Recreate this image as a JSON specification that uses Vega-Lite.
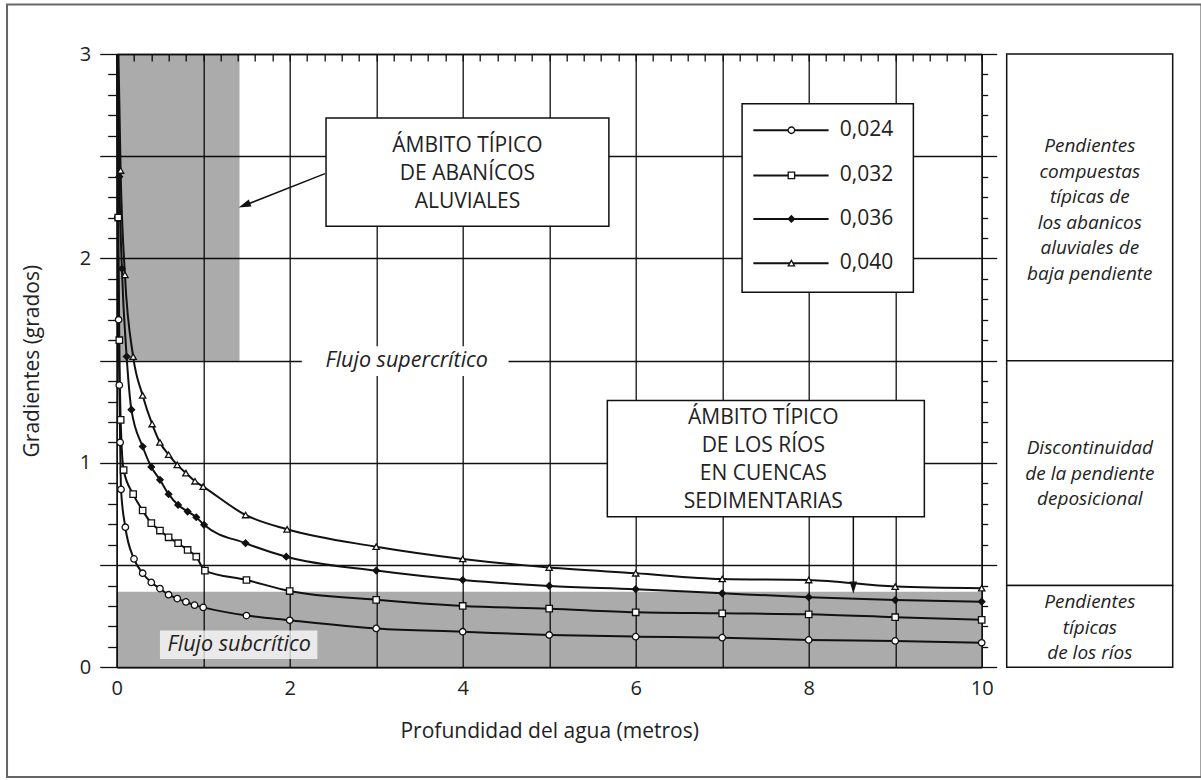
{
  "$schema": "https://vega.github.io/schema/vega-lite/v6.json",
  "width": 865,
  "height": 613.3,
  "autosize": {"type": "none"},
  "padding": {"left": 116.7, "top": 54, "right": 219.3, "bottom": 112.7},
  "background": "white",
  "config": {
    "view": {"stroke": null},
    "font": "Open Sans",
    "axis": {
      "domainColor": "#111", "domainWidth": 1.5,
      "gridColor": "#111", "gridWidth": 1.3, "gridOpacity": 1,
      "tickColor": "#111", "tickWidth": 1.3,
      "labelFont": "Open Sans", "labelColor": "#222", "labelFontSize": 20,
      "titleFont": "Open Sans", "titleColor": "#222", "titleFontSize": 21, "titleFontWeight": "normal",
      "labelFlush": false, "labelOverlap": false
    }
  },
  "datasets": {
    "series": [
      {"n": "0,024", "x": 0.005, "y": 3.0}, {"n": "0,024", "x": 0.012, "y": 2.2}, {"n": "0,024", "x": 0.022, "y": 1.7},
      {"n": "0,024", "x": 0.03, "y": 1.38}, {"n": "0,024", "x": 0.04, "y": 1.1}, {"n": "0,024", "x": 0.05, "y": 0.87},
      {"n": "0,024", "x": 0.1, "y": 0.685}, {"n": "0,024", "x": 0.2, "y": 0.53}, {"n": "0,024", "x": 0.3, "y": 0.46},
      {"n": "0,024", "x": 0.4, "y": 0.415}, {"n": "0,024", "x": 0.5, "y": 0.385}, {"n": "0,024", "x": 0.6, "y": 0.355},
      {"n": "0,024", "x": 0.7, "y": 0.336}, {"n": "0,024", "x": 0.8, "y": 0.32}, {"n": "0,024", "x": 0.9, "y": 0.304},
      {"n": "0,024", "x": 1.0, "y": 0.293}, {"n": "0,024", "x": 1.5, "y": 0.253}, {"n": "0,024", "x": 2, "y": 0.23},
      {"n": "0,024", "x": 3, "y": 0.19}, {"n": "0,024", "x": 4, "y": 0.174}, {"n": "0,024", "x": 5, "y": 0.158},
      {"n": "0,024", "x": 6, "y": 0.15}, {"n": "0,024", "x": 7, "y": 0.145}, {"n": "0,024", "x": 8, "y": 0.134},
      {"n": "0,024", "x": 9, "y": 0.129}, {"n": "0,024", "x": 10, "y": 0.12},

      {"n": "0,032", "x": 0.008, "y": 3.0}, {"n": "0,032", "x": 0.018, "y": 2.2}, {"n": "0,032", "x": 0.03, "y": 1.6},
      {"n": "0,032", "x": 0.046, "y": 1.21}, {"n": "0,032", "x": 0.08, "y": 0.965}, {"n": "0,032", "x": 0.19, "y": 0.847},
      {"n": "0,032", "x": 0.3, "y": 0.767}, {"n": "0,032", "x": 0.4, "y": 0.705}, {"n": "0,032", "x": 0.5, "y": 0.669},
      {"n": "0,032", "x": 0.6, "y": 0.636}, {"n": "0,032", "x": 0.71, "y": 0.607}, {"n": "0,032", "x": 0.82, "y": 0.574},
      {"n": "0,032", "x": 0.92, "y": 0.541}, {"n": "0,032", "x": 1.02, "y": 0.473}, {"n": "0,032", "x": 1.5, "y": 0.427},
      {"n": "0,032", "x": 2, "y": 0.373}, {"n": "0,032", "x": 3, "y": 0.33}, {"n": "0,032", "x": 4, "y": 0.3},
      {"n": "0,032", "x": 5, "y": 0.287}, {"n": "0,032", "x": 6, "y": 0.269}, {"n": "0,032", "x": 7, "y": 0.264},
      {"n": "0,032", "x": 8, "y": 0.259}, {"n": "0,032", "x": 9, "y": 0.245}, {"n": "0,032", "x": 10, "y": 0.232},

      {"n": "0,036", "x": 0.012, "y": 3.0}, {"n": "0,036", "x": 0.03, "y": 2.4}, {"n": "0,036", "x": 0.06, "y": 1.95},
      {"n": "0,036", "x": 0.115, "y": 1.52}, {"n": "0,036", "x": 0.17, "y": 1.26}, {"n": "0,036", "x": 0.3, "y": 1.08},
      {"n": "0,036", "x": 0.4, "y": 0.98}, {"n": "0,036", "x": 0.5, "y": 0.917}, {"n": "0,036", "x": 0.6, "y": 0.847},
      {"n": "0,036", "x": 0.71, "y": 0.794}, {"n": "0,036", "x": 0.82, "y": 0.762}, {"n": "0,036", "x": 0.92, "y": 0.734},
      {"n": "0,036", "x": 1.01, "y": 0.697}, {"n": "0,036", "x": 1.49, "y": 0.607}, {"n": "0,036", "x": 1.96, "y": 0.541},
      {"n": "0,036", "x": 3, "y": 0.473}, {"n": "0,036", "x": 4, "y": 0.427}, {"n": "0,036", "x": 5, "y": 0.398},
      {"n": "0,036", "x": 6, "y": 0.382}, {"n": "0,036", "x": 7, "y": 0.362}, {"n": "0,036", "x": 8, "y": 0.343},
      {"n": "0,036", "x": 9, "y": 0.329}, {"n": "0,036", "x": 10, "y": 0.321},

      {"n": "0,040", "x": 0.02, "y": 3.0}, {"n": "0,040", "x": 0.045, "y": 2.43}, {"n": "0,040", "x": 0.095, "y": 1.92},
      {"n": "0,040", "x": 0.19, "y": 1.52}, {"n": "0,040", "x": 0.3, "y": 1.33}, {"n": "0,040", "x": 0.41, "y": 1.19},
      {"n": "0,040", "x": 0.5, "y": 1.1}, {"n": "0,040", "x": 0.6, "y": 1.04}, {"n": "0,040", "x": 0.7, "y": 0.99},
      {"n": "0,040", "x": 0.8, "y": 0.95}, {"n": "0,040", "x": 0.905, "y": 0.91}, {"n": "0,040", "x": 1.0, "y": 0.884},
      {"n": "0,040", "x": 1.49, "y": 0.745}, {"n": "0,040", "x": 1.97, "y": 0.675}, {"n": "0,040", "x": 3, "y": 0.59},
      {"n": "0,040", "x": 4, "y": 0.53}, {"n": "0,040", "x": 5, "y": 0.488}, {"n": "0,040", "x": 6, "y": 0.46},
      {"n": "0,040", "x": 7, "y": 0.432}, {"n": "0,040", "x": 8, "y": 0.427}, {"n": "0,040", "x": 9, "y": 0.395},
      {"n": "0,040", "x": 10, "y": 0.387}
    ],
    "shade": [
      {"x0": 0, "x1": 1.42, "y0": 1.5, "y1": 3},
      {"x0": 0, "x1": 10, "y0": 0, "y1": 0.37}
    ],
    "boxes": [
      {"x0": 2.42, "x1": 5.69, "y0": 2.157, "y1": 2.687},
      {"x0": 5.672, "x1": 9.337, "y0": 0.737, "y1": 1.305},
      {"x0": 7.23, "x1": 9.21, "y0": 1.835, "y1": 2.757}
    ],
    "boxtext": [
      {"x": 4.055, "y": 2.548, "t": "ÁMBITO TÍPICO\nDE ABANÍCOS\nALUVIALES"},
      {"x": 7.475, "y": 1.219, "t": "ÁMBITO TÍPICO\nDE LOS RÍOS\nEN CUENCAS\nSEDIMENTARIAS"}
    ],
    "legend": [
      {"n": "0,024", "y": 2.627},
      {"n": "0,032", "y": 2.406},
      {"n": "0,036", "y": 2.193},
      {"n": "0,040", "y": 1.977}
    ],
    "panel": [
      {"x0": 10.289, "x1": 12.208, "y0": 1.5, "y1": 3, "t": "Pendientes\ncompuestas\ntípicas de\nlos abanicos\naluviales de\nbaja pendiente", "ty": 2.548},
      {"x0": 10.289, "x1": 12.208, "y0": 0.4, "y1": 1.5, "t": "Discontinuidad\nde la pendiente\ndeposicional", "ty": 1.071},
      {"x0": 10.289, "x1": 12.208, "y0": 0, "y1": 0.4, "t": "Pendientes\ntípicas\nde los ríos", "ty": 0.319}
    ]
  },
  "resolve": {"axis": {"x": "independent", "y": "independent"}},
  "layer": [
    {
      "data": {"name": "shade"},
      "mark": {"type": "rect", "fill": "#000", "fillOpacity": 0.33},
      "encoding": {
        "x": {"field": "x0", "type": "quantitative",
          "scale": {"domain": [0, 10], "nice": false, "zero": false},
          "axis": {"orient": "bottom", "values": [0, 1, 2, 3, 4, 5, 6, 7, 8, 9, 10], "grid": true, "tickSize": 0,
            "labelExpr": "datum.value % 2 == 0 ? datum.label : ''", "labelPadding": 11,
            "title": "Profundidad del agua (metros)", "titlePadding": 22, "zindex": 0}},
        "x2": {"field": "x1"},
        "y": {"field": "y0", "type": "quantitative",
          "scale": {"domain": [0, 3], "nice": false, "zero": false},
          "axis": {"orient": "left",
            "values": [0, 0.1, 0.2, 0.3, 0.4, 0.5, 0.6, 0.7, 0.8, 0.9, 1, 1.1, 1.2, 1.3, 1.4, 1.5, 1.6, 1.7, 1.8, 1.9, 2, 2.1, 2.2, 2.3, 2.4, 2.5, 2.6, 2.7, 2.8, 2.9, 3],
            "grid": true,
            "gridOpacity": {"condition": {"test": "abs(datum.value * 2 - round(datum.value * 2)) < 0.001", "value": 1}, "value": 0},
            "tickSize": {"condition": {"test": "abs(datum.value * 2 - round(datum.value * 2)) < 0.001", "value": 17}, "value": 9},
            "labelExpr": "abs(datum.value - round(datum.value)) < 0.001 ? format(datum.value, 'd') : ''",
            "labelPadding": 9, "title": "Gradientes (grados)", "titlePadding": 37, "zindex": 0}},
        "y2": {"field": "y1"}
      }
    },
    {
      "data": {"values": [{"x0": 2.14, "x1": 4.53, "y0": 1.425, "y1": 1.57}]},
      "mark": {"type": "rect", "fill": "white"},
      "encoding": {
        "x": {"field": "x0", "type": "quantitative", "axis": null}, "x2": {"field": "x1"},
        "y": {"field": "y0", "type": "quantitative", "axis": null}, "y2": {"field": "y1"}
      }
    },
    {
      "data": {"values": [{"x0": 0.5, "x1": 2.32, "y0": 0.04, "y1": 0.18}]},
      "mark": {"type": "rect", "fill": "white", "fillOpacity": 0.75},
      "encoding": {
        "x": {"field": "x0", "type": "quantitative", "axis": null}, "x2": {"field": "x1"},
        "y": {"field": "y0", "type": "quantitative", "axis": null}, "y2": {"field": "y1"}
      }
    },
    {
      "data": {"name": "series"},
      "mark": {"type": "line", "color": "#111", "strokeWidth": 2, "interpolate": "monotone"},
      "encoding": {
        "x": {"field": "x", "type": "quantitative",
          "scale": {"domain": [0, 10], "nice": false, "zero": false},
          "axis": {"orient": "top",
            "values": [0, 0.2, 0.4, 0.6, 0.8, 1, 1.2, 1.4, 1.6, 1.8, 2, 2.2, 2.4, 2.6, 2.8, 3, 3.2, 3.4, 3.6, 3.8, 4, 4.2, 4.4, 4.6, 4.8, 5, 5.2, 5.4, 5.6, 5.8, 6, 6.2, 6.4, 6.6, 6.8, 7, 7.2, 7.4, 7.6, 7.8, 8, 8.2, 8.4, 8.6, 8.8, 9, 9.2, 9.4, 9.6, 9.8, 10],
            "grid": false, "labels": false, "title": null, "tickSize": -7, "zindex": 0}},
        "y": {"field": "y", "type": "quantitative",
          "scale": {"domain": [0, 3], "nice": false, "zero": false},
          "axis": {"orient": "right",
            "values": [0, 0.1, 0.2, 0.3, 0.4, 0.5, 0.6, 0.7, 0.8, 0.9, 1, 1.1, 1.2, 1.3, 1.4, 1.5, 1.6, 1.7, 1.8, 1.9, 2, 2.1, 2.2, 2.3, 2.4, 2.5, 2.6, 2.7, 2.8, 2.9, 3],
            "grid": false, "labels": false, "title": null,
            "tickSize": {"condition": {"test": "abs(datum.value * 2 - round(datum.value * 2)) < 0.001", "value": 15}, "value": 6},
            "zindex": 0}},
        "detail": {"field": "n", "type": "nominal"}
      }
    },
    {
      "data": {"name": "series"},
      "transform": [{"filter": "datum.y <= 2.5"}],
      "mark": {"type": "point", "stroke": "#111", "strokeWidth": 1.3, "opacity": 1, "fillOpacity": 1},
      "encoding": {
        "x": {"field": "x", "type": "quantitative", "axis": null},
        "y": {"field": "y", "type": "quantitative", "axis": null},
        "shape": {"field": "n", "type": "nominal", "legend": null,
          "scale": {"domain": ["0,024", "0,032", "0,036", "0,040"], "range": ["circle", "square", "diamond", "triangle-up"]}},
        "fill": {"field": "n", "type": "nominal", "legend": null,
          "scale": {"domain": ["0,024", "0,032", "0,036", "0,040"], "range": ["white", "white", "#111", "white"]}},
        "size": {"field": "n", "type": "nominal", "legend": null,
          "scale": {"domain": ["0,024", "0,032", "0,036", "0,040"], "range": [42, 40, 22, 60]}}
      }
    },
    {
      "data": {"values": [{"x0": 2.408, "y0": 2.415, "x1": 1.48, "y1": 2.26}, {"x0": 8.516, "y0": 0.737, "x1": 8.516, "y1": 0.4}]},
      "mark": {"type": "rule", "color": "#111", "strokeWidth": 1.5},
      "encoding": {
        "x": {"field": "x0", "type": "quantitative", "axis": null}, "x2": {"field": "x1"},
        "y": {"field": "y0", "type": "quantitative", "axis": null}, "y2": {"field": "y1"}
      }
    },
    {
      "data": {"values": [{"x": 1.476, "y": 2.26}]},
      "mark": {"type": "point", "shape": "M0,-1L0.6,1L-0.6,1Z", "angle": 248.5, "size": 150, "filled": true, "color": "#111", "opacity": 1},
      "encoding": {
        "x": {"field": "x", "type": "quantitative", "axis": null},
        "y": {"field": "y", "type": "quantitative", "axis": null}
      }
    },
    {
      "data": {"values": [{"x": 8.516, "y": 0.39}]},
      "mark": {"type": "point", "shape": "M0,-1L0.6,1L-0.6,1Z", "angle": 180, "size": 150, "filled": true, "color": "#111", "opacity": 1},
      "encoding": {
        "x": {"field": "x", "type": "quantitative", "axis": null},
        "y": {"field": "y", "type": "quantitative", "axis": null}
      }
    },
    {
      "data": {"name": "boxes"},
      "mark": {"type": "rect", "fill": "white", "stroke": "#111", "strokeWidth": 1.5},
      "encoding": {
        "x": {"field": "x0", "type": "quantitative", "axis": null}, "x2": {"field": "x1"},
        "y": {"field": "y0", "type": "quantitative", "axis": null}, "y2": {"field": "y1"}
      }
    },
    {
      "data": {"name": "boxtext"},
      "mark": {"type": "text", "font": "Open Sans", "fontSize": 21, "lineBreak": "\n", "lineHeight": 28, "align": "center", "baseline": "middle", "color": "#222"},
      "encoding": {
        "x": {"field": "x", "type": "quantitative", "axis": null},
        "y": {"field": "y", "type": "quantitative", "axis": null},
        "text": {"field": "t"}
      }
    },
    {
      "data": {"values": [{"x": 3.352, "y": 1.496, "t": "Flujo supercrítico"}, {"x": 1.416, "y": 0.109, "t": "Flujo subcrítico"}]},
      "mark": {"type": "text", "font": "Open Sans", "fontSize": 21.5, "fontStyle": "italic", "align": "center", "baseline": "middle", "color": "#222"},
      "encoding": {
        "x": {"field": "x", "type": "quantitative", "axis": null},
        "y": {"field": "y", "type": "quantitative", "axis": null},
        "text": {"field": "t"}
      }
    },
    {
      "data": {"name": "legend"},
      "mark": {"type": "rule", "color": "#111", "strokeWidth": 2},
      "encoding": {
        "x": {"datum": 7.36, "type": "quantitative", "axis": null},
        "x2": {"datum": 8.23},
        "y": {"field": "y", "type": "quantitative", "axis": null}
      }
    },
    {
      "data": {"name": "legend"},
      "mark": {"type": "point", "stroke": "#111", "strokeWidth": 1.3, "opacity": 1, "fillOpacity": 1},
      "encoding": {
        "x": {"datum": 7.8, "type": "quantitative", "axis": null},
        "y": {"field": "y", "type": "quantitative", "axis": null},
        "shape": {"field": "n", "type": "nominal", "legend": null},
        "fill": {"field": "n", "type": "nominal", "legend": null},
        "size": {"field": "n", "type": "nominal", "legend": null}
      }
    },
    {
      "data": {"name": "legend"},
      "mark": {"type": "text", "font": "Open Sans", "fontSize": 21, "align": "left", "baseline": "middle", "color": "#222"},
      "encoding": {
        "x": {"datum": 8.36, "type": "quantitative", "axis": null},
        "y": {"field": "y", "type": "quantitative", "axis": null},
        "text": {"field": "n"}
      }
    },
    {
      "data": {"name": "panel"},
      "mark": {"type": "rect", "fill": "white", "stroke": "#111", "strokeWidth": 1.5, "clip": false},
      "encoding": {
        "x": {"field": "x0", "type": "quantitative", "axis": null}, "x2": {"field": "x1"},
        "y": {"field": "y0", "type": "quantitative", "axis": null}, "y2": {"field": "y1"}
      }
    },
    {
      "data": {"name": "panel"},
      "mark": {"type": "text", "font": "Open Sans", "fontSize": 19, "fontStyle": "italic", "lineBreak": "\n", "lineHeight": 25.5, "align": "center", "baseline": "middle", "color": "#222", "clip": false},
      "encoding": {
        "x": {"datum": 11.25, "type": "quantitative", "axis": null},
        "y": {"field": "ty", "type": "quantitative", "axis": null},
        "text": {"field": "t"}
      }
    },
    {
      "data": {"values": [{"x0": -1.268, "x1": 12.54, "y0": 3.242, "y1": -0.537}]},
      "mark": {"type": "rect", "filled": false, "stroke": "#666", "strokeWidth": 2, "clip": false},
      "encoding": {
        "x": {"field": "x0", "type": "quantitative", "axis": null}, "x2": {"field": "x1"},
        "y": {"field": "y0", "type": "quantitative", "axis": null}, "y2": {"field": "y1"}
      }
    }
  ]
}
